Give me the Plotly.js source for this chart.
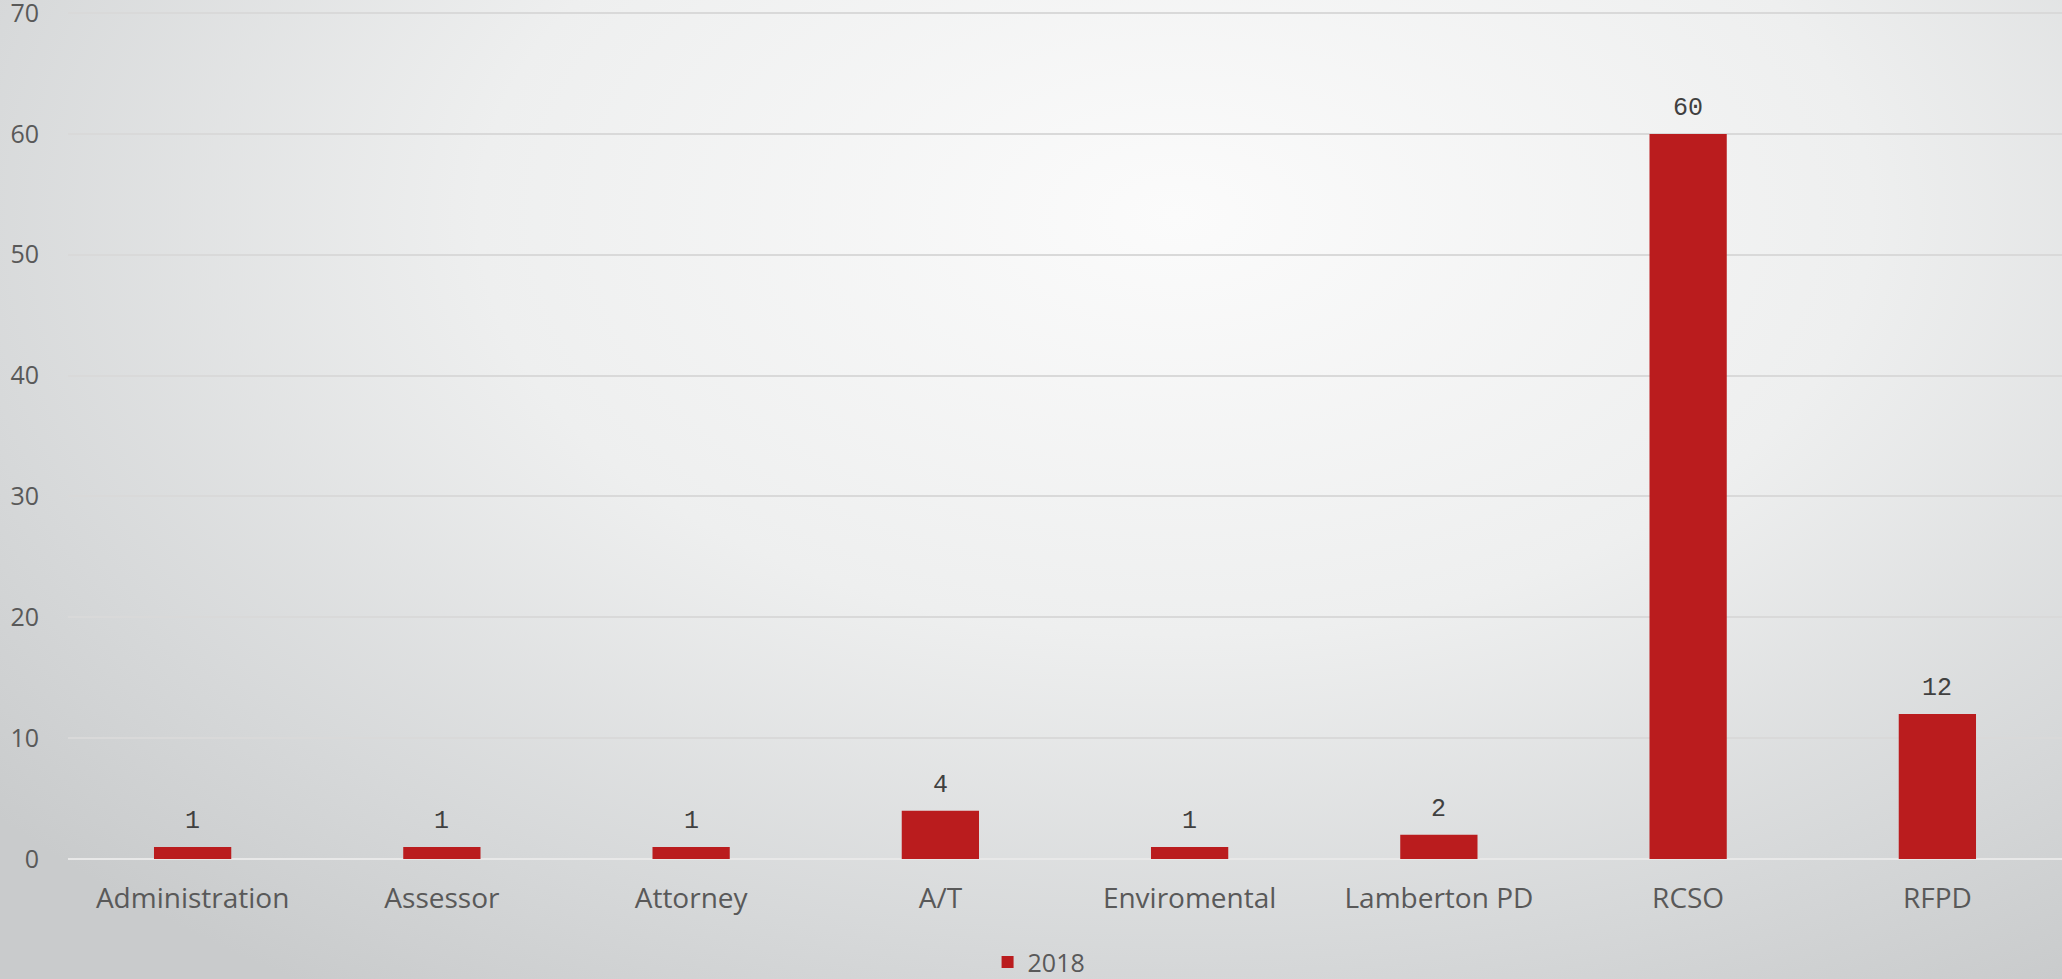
<!DOCTYPE html>
<html>
<head>
<meta charset="utf-8">
<script src="https://cdn.plot.ly/plotly-3.0.1.min.js"></script>
<style>
  html, body { margin: 0; padding: 0; }
  body {
    width: 2062px; height: 979px; overflow: hidden;
    background: radial-gradient(ellipse 75% 95% at 57% 22%, #fbfbfb 0%, #eeefef 45%, #d6d8d9 80%, #c9cbcc 100%);
  }
</style>
</head>
<body>
<div id="chart"></div>
<script>
// departments and 2018 counts
const departments = ["Administration", "Assessor", "Attorney", "A/T", "Enviromental", "Lamberton PD", "RCSO", "RFPD"];
const counts2018 = [1, 1, 1, 4, 1, 2, 60, 12];
const seriesName = "2018";

const barColor = "#BA1C1E";

let trace = {
  x: departments,
  y: counts2018,
  type: "bar",
  name: seriesName,
  marker: {color: barColor},
  hoverinfo: "x+y"
};

// value labels above each bar
let labels = departments.map((d, i) => ({
  x: d,
  y: counts2018[i],
  text: String(counts2018[i]),
  showarrow: false,
  yanchor: "bottom",
  yshift: 9,
  font: {family: "Liberation Mono, monospace", size: 25, color: "#404040"}
}));

var layout = {
  width: 2062,
  height: 979,
  margin: {l: 68, r: 0, t: 7, b: 120},
  paper_bgcolor: "rgba(0,0,0,0)",
  plot_bgcolor: "rgba(0,0,0,0)",
  bargap: 0.69,
  font: {family: "Open Sans, sans-serif", color: "#595959"},
  xaxis: {
    type: "category",
    showgrid: false,
    showline: false,
    ticks: "",
    tickfont: {size: 28, color: "#595959"},
    ticklabelstandoff: 20,
    automargin: false
  },
  yaxis: {
    range: [0, 70.5],
    tickvals: [0, 10, 20, 30, 40, 50, 60, 70],
    showgrid: true,
    gridcolor: "#d9d9d9",
    gridwidth: 1.5,
    zeroline: true,
    zerolinecolor: "#e8e8e8",
    zerolinewidth: 2,
    ticks: "",
    tickfont: {size: 25, color: "#595959"},
    ticklabelstandoff: 28,
    ticklabeloverflow: "allow",
    automargin: false
  },
  showlegend: true,
  legend: {
    orientation: "h",
    x: 0.487,
    xanchor: "center",
    yref: "container",
    y: 0.017,
    yanchor: "middle",
    font: {size: 25, color: "#595959"},
    bgcolor: "rgba(0,0,0,0)"
  },
  annotations: labels
};

Plotly.newPlot("chart", [trace], layout, {displayModeBar: false});
</script>
</body>
</html>
